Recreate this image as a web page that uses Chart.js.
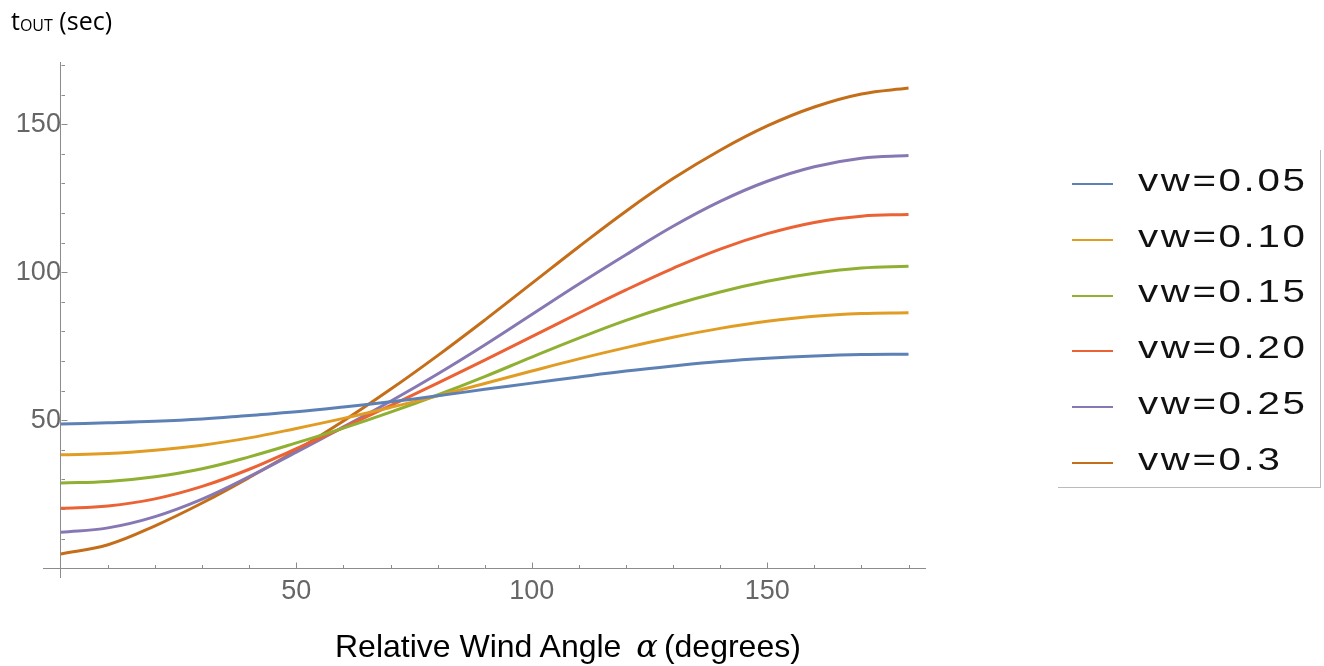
<!DOCTYPE html>
<html>
<head>
<meta charset="utf-8">
<script src="https://cdn.jsdelivr.net/npm/chart.js@4.4.1/dist/chart.umd.min.js"></script>
<style>
  body { margin: 0; background: #fff; }
  #wrap { position: relative; width: 1324px; height: 666px; overflow: hidden; }
  #chart { position: absolute; left: 0; top: 0; }
  #yTitle {
    position: absolute; left: 11px; top: 8px;
    font-family: "Open Sans", sans-serif; font-size: 25px; line-height: 25px; color: #000;
    white-space: nowrap;
  }
  #yTitle span { font-size: 16px; vertical-align: -1px; }
  #xTitle {
    position: absolute; left: 335px; top: 631px;
    font-family: "Liberation Sans", Arial, sans-serif; font-size: 32px; line-height: 31px; color: #000;
    white-space: nowrap;
  }
  #xTitle i { font-family: "DejaVu Serif", "Liberation Serif", serif; margin: 0 6px 0 6px; }
  #legend {
    position: absolute; left: 1058px; top: 150px; width: 262px; height: 337px;
    border-right: 1px solid #bbb; border-bottom: 1px solid #bbb;
  }
  .swatch { position: absolute; left: 14px; width: 41px; height: 2px; }
  .lbl {
    position: absolute; left: 80px; line-height: 30px; white-space: nowrap;
    font-family: "Liberation Sans", Arial, sans-serif; font-size: 31px; color: #111;
    letter-spacing: 2px; transform: scaleX(1.3); transform-origin: left center;
  }
</style>
</head>
<body>
<div id="wrap">
  <canvas id="chart" width="1324" height="666"></canvas>
  <div id="yTitle">t<span>OUT</span> (sec)</div>
  <div id="xTitle">Relative Wind Angle <i>α</i>(degrees)</div>
  <div id="legend"></div>
</div>
<script>
// wind angle in degrees
const angles = [0, 10, 20, 30, 40, 50, 60, 70, 80, 90, 100, 110, 120, 130, 140, 150, 160, 170, 180];

// t_out in seconds
const vw005 = [48.7, 49.1, 49.6, 50.4, 51.6, 52.8, 54.4, 56.2, 58.2, 60.4, 62.5, 64.6, 66.6, 68.3, 69.8, 70.9, 71.7, 72.2, 72.3];
const vw010 = [38.3, 38.7, 39.8, 41.5, 44.0, 47.2, 50.6, 54.3, 58.2, 62.4, 66.6, 70.7, 74.5, 78.0, 81.0, 83.4, 85.1, 86.0, 86.3];
const vw015 = [28.8, 29.3, 30.9, 33.6, 37.6, 42.3, 47.3, 52.7, 58.5, 64.7, 71.3, 77.7, 83.7, 88.9, 93.3, 96.9, 99.6, 101.4, 102.0];
const vw020 = [20.2, 21.0, 23.4, 27.6, 33.4, 40.4, 47.5, 54.9, 62.5, 70.3, 78.2, 86.2, 94.0, 101.3, 107.8, 113.0, 116.8, 118.9, 119.5];
const vw025 = [12.1, 13.6, 17.4, 23.3, 30.9, 39.2, 47.7, 56.4, 65.6, 75.4, 85.7, 96.0, 105.9, 115.5, 123.9, 130.7, 135.6, 138.5, 139.4];
const vw030 = [4.8, 7.9, 14.3, 22.0, 30.6, 39.8, 49.7, 60.4, 71.8, 83.8, 96.2, 108.6, 120.6, 131.6, 141.2, 149.4, 155.8, 160.2, 162.2];

const seriesValues = [vw005, vw010, vw015, vw020, vw025, vw030];
const seriesLabels = ['vw=0.05', 'vw=0.10', 'vw=0.15', 'vw=0.20', 'vw=0.25', 'vw=0.3'];
const seriesColors = ['#5E81B5', '#E19C24', '#8FB032', '#EB6235', '#8778B3', '#C56E1A'];

const xMajorTicks = [50, 100, 150];
const xMinorTicks = [10, 20, 30, 40, 60, 70, 80, 90, 110, 120, 130, 140, 160, 170, 180];
const yMajorTicks = [50, 100, 150];
const yMinorTicks = [10, 20, 30, 40, 60, 70, 80, 90, 110, 120, 130, 140, 160, 170];

const axisColor = '#8c8c8c';
const tickFont = { family: '"Liberation Sans Narrow", "Liberation Sans", Arial, sans-serif', size: 27 };

function majorLabel(list) {
    return function (v) {
        return list.some(m => Math.abs(m - v) < 1e-6) ? String(v) : '';
    };
}

// Mathematica style ticks: drawn from the axis into the plot
const tickMarks = {
    id: 'tickMarks',
    beforeDatasetsDraw(chart) {
        const { ctx, scales: { x, y } } = chart;
        const x0 = Math.round(x.getPixelForValue(0)) + 0.5;
        const y0 = Math.round(y.getPixelForValue(0)) + 0.5;
        ctx.save();
        ctx.strokeStyle = axisColor;
        ctx.lineWidth = 1;
        ctx.beginPath();
        const xTick = (v, len) => {
            const px = Math.round(x.getPixelForValue(v)) + 0.5;
            ctx.moveTo(px, y0);
            ctx.lineTo(px, y0 - len);
        };
        const yTick = (v, len) => {
            const py = Math.round(y.getPixelForValue(v)) + 0.5;
            ctx.moveTo(x0, py);
            ctx.lineTo(x0 + len, py);
        };
        xMajorTicks.forEach(v => xTick(v, 6));
        xMinorTicks.forEach(v => xTick(v, 3.5));
        yMajorTicks.forEach(v => yTick(v, 6));
        yMinorTicks.forEach(v => yTick(v, 3.5));
        ctx.stroke();
        ctx.restore();
    }
};

const datasets = seriesValues.map((vals, i) => ({
    label: seriesLabels[i],
    data: angles.map((a, j) => ({ x: a, y: vals[j] })),
    borderColor: seriesColors[i],
    backgroundColor: seriesColors[i],
    borderWidth: 3,
    pointRadius: 0,
    fill: false,
    tension: 0.4,
    clip: false
}));

new Chart(document.getElementById('chart'), {
    type: 'line',
    data: { datasets },
    options: {
        responsive: false,
        animation: false,
        layout: { padding: { left: 43, right: 399, top: 62, bottom: 89 } },
        plugins: {
            legend: { display: false },
            tooltip: { enabled: false }
        },
        scales: {
            x: {
                type: 'linear',
                min: -3.8,
                max: 183.5,
                position: { y: 0 },
                afterFit: s => { s.height = 0; },
                grid: { display: false, drawTicks: false },
                border: { display: true, color: axisColor, width: 1 },
                ticks: {
                    stepSize: 50,
                    autoSkip: false,
                    maxRotation: 0,
                    padding: 7,
                    color: '#666',
                    font: tickFont,
                    callback: majorLabel(xMajorTicks)
                }
            },
            y: {
                type: 'linear',
                min: -3,
                max: 171,
                position: { x: 0 },
                afterFit: s => { s.width = 0; },
                grid: { display: false, drawTicks: false },
                border: { display: true, color: axisColor, width: 1 },
                ticks: {
                    stepSize: 50,
                    autoSkip: false,
                    padding: 10,
                    color: '#666',
                    font: tickFont,
                    callback: majorLabel(yMajorTicks)
                }
            }
        }
    },
    plugins: [tickMarks]
});

// legend built from the same series arrays
const legend = document.getElementById('legend');
const rowTop = 34.3;
const rowStep = 55.7;
seriesLabels.forEach((label, i) => {
    const cy = rowTop + i * rowStep;
    const sw = document.createElement('div');
    sw.className = 'swatch';
    sw.style.top = (cy - 1) + 'px';
    sw.style.background = seriesColors[i];
    legend.appendChild(sw);
    const tx = document.createElement('div');
    tx.className = 'lbl';
    tx.style.top = (cy - 18.3) + 'px';
    tx.textContent = label;
    legend.appendChild(tx);
});
</script>
</body>
</html>
